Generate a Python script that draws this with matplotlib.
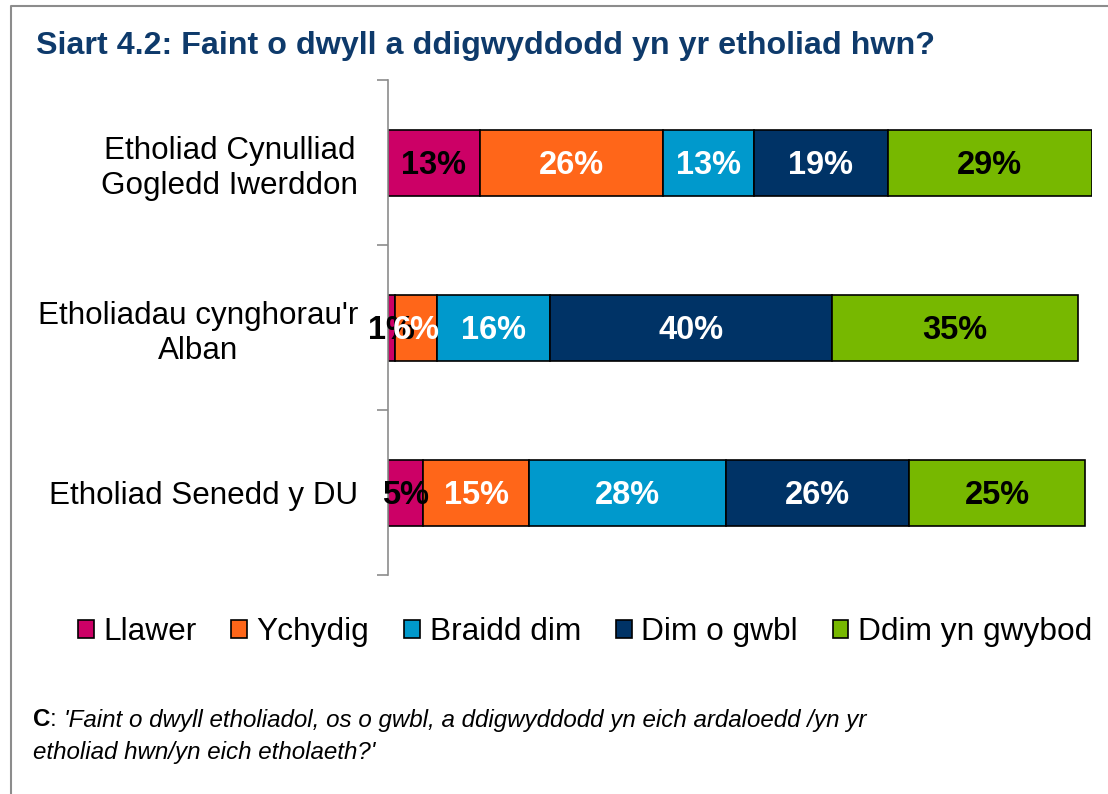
import numpy as np
import matplotlib
matplotlib.use("Agg")
import matplotlib.pyplot as plt
from matplotlib.patches import Rectangle
from matplotlib.lines import Line2D

plt.rcParams['font.family'] = ['Liberation Sans', 'DejaVu Sans']

# data
categories = ["Etholiad Cynulliad\nGogledd Iwerddon",
              "Etholiadau cynghorau'r\nAlban",
              "Etholiad Senedd y DU"]
series = ["Llawer", "Ychydig", "Braidd dim", "Dim o gwbl", "Ddim yn gwybod"]
llawer = [13, 1, 5]
ychydig = [26, 6, 15]
braidd_dim = [13, 16, 28]
dim_o_gwbl = [19, 40, 26]
ddim_yn_gwybod = [29, 35, 25]

colors = ["#CC0066", "#FF6619", "#0099CC", "#003366", "#77B800"]
label_colors = ["black", "white", "white", "white", "black"]

W, H = 1108, 794
fig = plt.figure(figsize=(W / 100, H / 100), dpi=100)

# frame lines (left + top)
fig.add_artist(Line2D([11 / W, 11 / W, 1], [0, 1 - 6 / H, 1 - 6 / H],
                      transform=fig.transFigure, color="#8c8c8c", lw=1.5))

fig.text(36 / W, 1 - 46 / H, "Siart 4.2: Faint o dwyll a ddigwyddodd yn yr etholiad hwn?",
         fontsize=23.2, fontweight="bold", color="#0E3A6B", va="center", ha="left")

ax = fig.add_axes([388 / W, 1 - 575 / H, 704 / W, 495 / H])

data = [llawer, ychydig, braidd_dim, dim_o_gwbl, ddim_yn_gwybod]
y = np.arange(len(categories))
left = np.zeros(len(categories))
handles = []
for vals, name, c, tc in zip(data, series, colors, label_colors):
    vals = np.array(vals, dtype=float)
    ax.barh(y, vals, left=left, height=0.4, color=c, edgecolor="black", linewidth=1.2)
    for yi, v, l in zip(y, vals, left):
        ax.annotate(f"{v:.0f}%", xy=(l + v / 2, yi), xytext=(0, -8.4),
                    textcoords="offset points", ha="center", va="baseline",
                    fontsize=23.5, fontweight="bold", color=tc)
    left += vals
    handles.append(Rectangle((0, 0), 1, 1, facecolor=c, edgecolor="black", linewidth=1.2))

ax.set_xlim(0, 100)
ax.set_ylim(2.5, -0.5)
ax.set_yticks(y)
ax.set_yticklabels(categories, fontsize=22.6, multialignment="center")
ax.tick_params(axis="y", which="major", length=0, pad=21.6)
ax.set_yticks([-0.5, 0.5, 1.5, 2.5], minor=True)
ax.tick_params(axis="y", which="minor", length=8, color="#8c8c8c", width=1.2)
ax.set_xticks([])
for s in ["top", "right", "bottom"]:
    ax.spines[s].set_visible(False)
ax.spines["left"].set_color("#8c8c8c")
ax.spines["left"].set_linewidth(1.2)

fig.legend(handles, series, loc="center", bbox_to_anchor=(585 / W, 1 - 632 / H),
           ncol=5, frameon=False, fontsize=22.8, handlelength=0.5, handleheight=0.5,
           handletextpad=0.3, columnspacing=1.1, borderaxespad=0, borderpad=0)

# footnote
t = fig.text(33 / W, 1 - 720 / H, "C", fontsize=17.4, fontweight="bold", va="center")
a = plt.annotate(": ", xy=(1, 0.5), xycoords=t, va="center", ha="left", fontsize=17.4)
plt.annotate("'Faint o dwyll etholiadol, os o gwbl, a ddigwyddodd yn eich ardaloedd /yn yr",
             xy=(1, 0.5), xycoords=a, va="center", ha="left", fontsize=17.4, style="italic")
fig.text(33 / W, 1 - 752 / H, "etholiad hwn/yn eich etholaeth?'", fontsize=17.4,
         style="italic", va="center")

fig.savefig("out.png", dpi=100)
